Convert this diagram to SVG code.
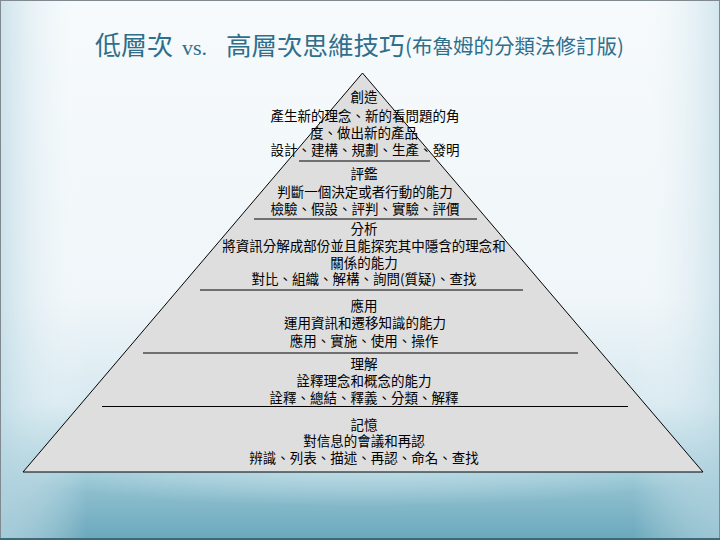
<svg xmlns="http://www.w3.org/2000/svg" width="720" height="540" viewBox="0 0 720 540">
<defs>
<linearGradient id="bg" x1="0" y1="0" x2="0" y2="1">
<stop offset="0" stop-color="#f6fafc"/>
<stop offset="0.55" stop-color="#f0f6f9"/>
<stop offset="0.75" stop-color="#d7e9f0"/>
<stop offset="0.87" stop-color="#9cc8d6"/>
<stop offset="1" stop-color="#6aa8bc"/>
</linearGradient>
<linearGradient id="side" x1="0" y1="0" x2="1" y2="0">
<stop offset="0" stop-color="#bcd9e4" stop-opacity="0.7"/>
<stop offset="0.12" stop-color="#ffffff" stop-opacity="0"/>
<stop offset="0.88" stop-color="#ffffff" stop-opacity="0"/>
<stop offset="1" stop-color="#bcd9e4" stop-opacity="0.6"/>
</linearGradient>
<radialGradient id="arc" cx="0.5" cy="0.2" r="0.6">
<stop offset="0" stop-color="#d2e8ef" stop-opacity="0.9"/>
<stop offset="1" stop-color="#d2e8ef" stop-opacity="0"/>
</radialGradient>
<style>
.t{font-family:"Noto Sans CJK TC","Noto Sans CJK SC",sans-serif;font-size:13.5px;fill:#000;text-anchor:middle}
.div{stroke:#000;stroke-width:1}
.ttl{font-family:"Noto Sans CJK TC","Noto Sans CJK SC",sans-serif;fill:#2f6f8b}
</style>
</defs>
<rect width="720" height="540" fill="url(#bg)"/>
<rect width="720" height="540" fill="url(#side)"/>
<ellipse cx="360" cy="480" rx="330" ry="45" fill="url(#arc)"/>
<rect x="0.5" y="0.5" width="719" height="538" fill="none" stroke="#808890" stroke-width="1"/>
<line x1="0" y1="539" x2="720" y2="539" stroke="#3d6a78" stroke-width="2"/>

<g id="title">
<text class="ttl" y="55"><tspan x="95" font-size="26">低層次</tspan><tspan x="182" font-size="22" font-family="'Liberation Serif',serif">vs.</tspan><tspan x="226" font-size="25.5">高層次思維技巧</tspan><tspan x="405" font-size="20.5" dy="-1">(布魯姆的分類法修訂版)</tspan></text>
</g>

<g id="pyramid">
<polygon points="362.5,73 23,472 703,472" fill="#dedede" stroke="#000" stroke-width="1"/>
</g>

<g id="connectors">
<line class="div" x1="299" y1="161" x2="430" y2="161"/>
<line class="div" x1="254" y1="219" x2="477" y2="219"/>
<line class="div" x1="200" y1="290" x2="523" y2="290"/>
<line class="div" x1="143" y1="353" x2="578" y2="353"/>
<line class="div" x1="102" y1="406.5" x2="628" y2="406.5"/>
</g>

<g id="create">
<text class="t" x="364" y="102">創造</text>
<text class="t" x="365" y="121">產生新的理念、新的看問題的角</text>
<text class="t" x="364" y="138">度、做出新的產品</text>
<text class="t" x="365" y="155">設計、建構、規劃、生產、發明</text>
</g>
<g id="evaluate">
<text class="t" x="364" y="179">評鑑</text>
<text class="t" x="365" y="197">判斷一個決定或者行動的能力</text>
<text class="t" x="365" y="214">檢驗、假設、評判、實驗、評價</text>
</g>
<g id="analyze">
<text class="t" x="364" y="234">分析</text>
<text class="t" x="364" y="251">將資訊分解成部份並且能探究其中隱含的理念和</text>
<text class="t" x="364" y="268">關係的能力</text>
<text class="t" x="364" y="284">對比、組織、解構、詢問(質疑)、查找</text>
</g>
<g id="apply">
<text class="t" x="364" y="311">應用</text>
<text class="t" x="365" y="328">運用資訊和遷移知識的能力</text>
<text class="t" x="364" y="346">應用、實施、使用、操作</text>
</g>
<g id="understand">
<text class="t" x="364" y="369">理解</text>
<text class="t" x="364" y="386">詮釋理念和概念的能力</text>
<text class="t" x="364" y="403">詮釋、總結、釋義、分類、解釋</text>
</g>
<g id="remember">
<text class="t" x="364" y="430">記憶</text>
<text class="t" x="364" y="446">對信息的會議和再認</text>
<text class="t" x="364" y="463">辨識、列表、描述、再認、命名、查找</text>
</g>
</svg>
